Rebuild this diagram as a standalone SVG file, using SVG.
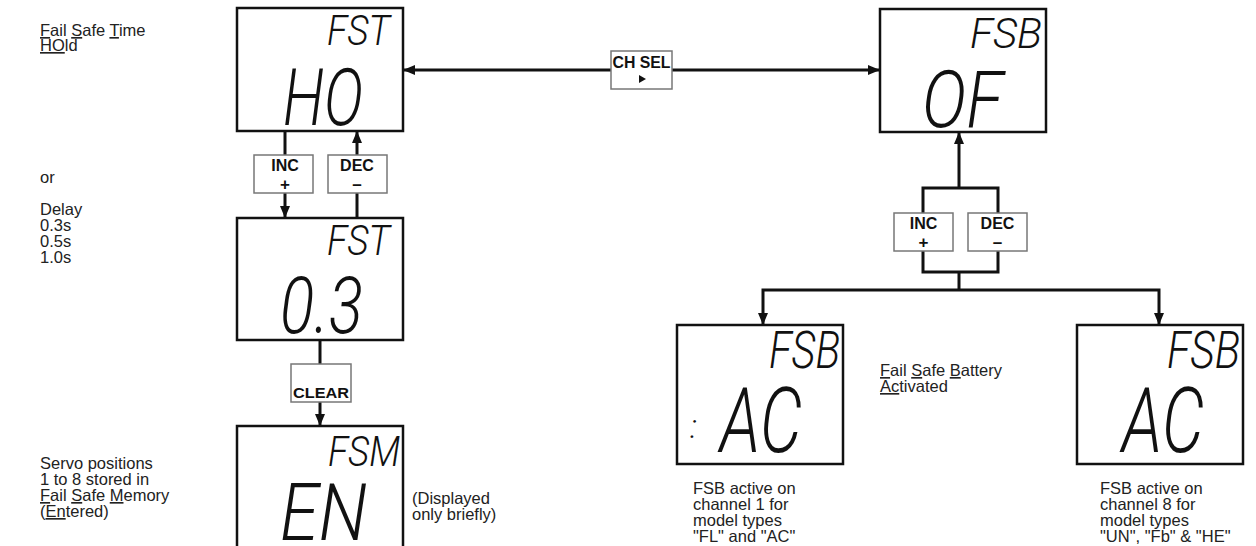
<svg xmlns="http://www.w3.org/2000/svg" width="1256" height="546" viewBox="0 0 1256 546">
<style>
.lbl{font-family:"Liberation Sans",Arial,sans-serif;font-size:16.5px;fill:#222}
.btn{font-family:"Liberation Sans",Arial,sans-serif;font-weight:bold;fill:#111;text-anchor:middle}
.seg{font-family:Roboto,"Liberation Sans",sans-serif;font-style:italic;font-weight:300;fill:#111}
.box{fill:#fff;stroke:#111;stroke-width:2.5}
.key{fill:#fff;stroke:#777;stroke-width:1.5}
.con{fill:none;stroke:#111;stroke-width:3}
.u{text-decoration:underline}
</style>
<defs>
<marker id="ah" viewBox="0 0 12 10" refX="12" refY="5" markerWidth="12" markerHeight="10" markerUnits="userSpaceOnUse" orient="auto-start-reverse"><path d="M0,0 L12,5 L0,10 z" fill="#111"/></marker>
</defs>
<rect width="1256" height="546" fill="#fff"/>

<g id="labels">
<text class="lbl" x="40" y="36"><tspan class="u">F</tspan>ail <tspan class="u">S</tspan>afe <tspan class="u">T</tspan>ime</text>
<text class="lbl" x="40" y="51"><tspan class="u">HO</tspan>ld</text>
<text class="lbl" x="40" y="183">or</text>
<text class="lbl" x="40" y="215">Delay</text>
<text class="lbl" x="40" y="231">0.3s</text>
<text class="lbl" x="40" y="247">0.5s</text>
<text class="lbl" x="40" y="263">1.0s</text>
<text class="lbl" x="40" y="469">Servo positions</text>
<text class="lbl" x="40" y="485">1 to 8 stored in</text>
<text class="lbl" x="40" y="501"><tspan class="u">F</tspan>ail <tspan class="u">S</tspan>afe <tspan class="u">M</tspan>emory</text>
<text class="lbl" x="40" y="517">(<tspan class="u">En</tspan>tered)</text>
<text class="lbl" x="412" y="504">(Displayed</text>
<text class="lbl" x="412" y="520">only briefly)</text>
<text class="lbl" x="880" y="376"><tspan class="u">F</tspan>ail <tspan class="u">S</tspan>afe <tspan class="u">B</tspan>attery</text>
<text class="lbl" x="880" y="392"><tspan class="u">Ac</tspan>tivated</text>
<text class="lbl" x="693" y="494">FSB active on</text>
<text class="lbl" x="693" y="510">channel 1 for</text>
<text class="lbl" x="693" y="526">model types</text>
<text class="lbl" x="693" y="542">"FL" and "AC"</text>
<text class="lbl" x="1100" y="494">FSB active on</text>
<text class="lbl" x="1100" y="510">channel 8 for</text>
<text class="lbl" x="1100" y="526">model types</text>
<text class="lbl" x="1100" y="542">"UN", "Fb" &amp; "HE"</text>
</g>

<g id="connectors">
<path class="con" d="M285,131 V155"/>
<path class="con" d="M285,193 V218" marker-end="url(#ah)"/>
<path class="con" d="M357,218 V193"/>
<path class="con" d="M357,155 V131" marker-end="url(#ah)"/>
<path class="con" d="M611,70 H403" marker-end="url(#ah)"/>
<path class="con" d="M672,70 H880" marker-end="url(#ah)"/>
<path class="con" d="M320,340 V364"/>
<path class="con" d="M320,402 V426" marker-end="url(#ah)"/>
<path class="con" d="M959,188 V132" marker-end="url(#ah)"/>
<path class="con" d="M923,213 V188 H998 V213"/>
<path class="con" d="M923,251 V272 H998 V251"/>
<path class="con" d="M959,272 V290"/>
<path class="con" d="M763,325 V290 H1159 V325" marker-start="url(#ah)" marker-end="url(#ah)"/>
</g>

<g id="fst-hold">
<rect class="box" x="237" y="8" width="166" height="123"/>
<text class="seg" x="327" y="45" font-size="42" textLength="63" lengthAdjust="spacingAndGlyphs">FST</text>
<text class="seg" x="283" y="125" font-size="80" textLength="80" lengthAdjust="spacingAndGlyphs">HO</text>
</g>
<g id="fst-delay">
<rect class="box" x="237" y="218" width="166" height="122"/>
<text class="seg" x="327" y="255" font-size="42" textLength="63" lengthAdjust="spacingAndGlyphs">FST</text>
<text class="seg" x="280" y="333" font-size="80" textLength="83" lengthAdjust="spacingAndGlyphs">0.3</text>
</g>
<g id="fsm-en">
<rect class="box" x="237" y="426" width="166" height="130"/>
<text class="seg" x="328" y="466" font-size="42" textLength="72" lengthAdjust="spacingAndGlyphs">FSM</text>
<text class="seg" x="280" y="540" font-size="80" textLength="87" lengthAdjust="spacingAndGlyphs">EN</text>
</g>
<g id="fsb-of">
<rect class="box" x="880" y="9" width="166" height="123"/>
<text class="seg" x="970" y="48" font-size="42" textLength="72" lengthAdjust="spacingAndGlyphs">FSB</text>
<text class="seg" x="922" y="127" font-size="80" textLength="81" lengthAdjust="spacingAndGlyphs">OF</text>
</g>
<g id="fsb-ch1">
<rect class="box" x="677" y="325" width="166" height="139"/>
<text class="seg" x="769" y="368" font-size="52" textLength="71" lengthAdjust="spacingAndGlyphs">FSB</text>
<text class="seg" x="690" y="438" font-size="34">:</text>
<text class="seg" x="720" y="452" font-size="90" textLength="82" lengthAdjust="spacingAndGlyphs">AC</text>
</g>
<g id="fsb-ch8">
<rect class="box" x="1077" y="325" width="166" height="139"/>
<text class="seg" x="1167" y="368" font-size="52" textLength="73" lengthAdjust="spacingAndGlyphs">FSB</text>
<text class="seg" x="1122" y="452" font-size="90" textLength="82" lengthAdjust="spacingAndGlyphs">AC</text>
</g>

<g id="key-inc-l">
<rect class="key" x="254" y="155" width="59" height="38"/>
<text class="btn" x="285" y="171" font-size="16">INC</text>
<text class="btn" x="285" y="190" font-size="17">+</text>
</g>
<g id="key-dec-l">
<rect class="key" x="328" y="155" width="59" height="38"/>
<text class="btn" x="357" y="171" font-size="16">DEC</text>
<text class="btn" x="357" y="190" font-size="17">–</text>
</g>
<g id="key-chsel">
<rect class="key" x="611" y="51" width="61" height="38"/>
<text class="btn" x="641.5" y="68" font-size="16" textLength="58" lengthAdjust="spacingAndGlyphs">CH SEL</text>
<path d="M639,75 L646,79 L639,83 z" fill="#111"/>
</g>
<g id="key-clear">
<rect class="key" x="291" y="364" width="60" height="38"/>
<text class="btn" x="321" y="398" font-size="15" textLength="56" lengthAdjust="spacingAndGlyphs">CLEAR</text>
</g>
<g id="key-inc-r">
<rect class="key" x="894" y="213" width="59" height="38"/>
<text class="btn" x="923.5" y="229" font-size="16">INC</text>
<text class="btn" x="923.5" y="248" font-size="17">+</text>
</g>
<g id="key-dec-r">
<rect class="key" x="968" y="213" width="59" height="38"/>
<text class="btn" x="997.5" y="229" font-size="16">DEC</text>
<text class="btn" x="997.5" y="248" font-size="17">–</text>
</g>
</svg>
